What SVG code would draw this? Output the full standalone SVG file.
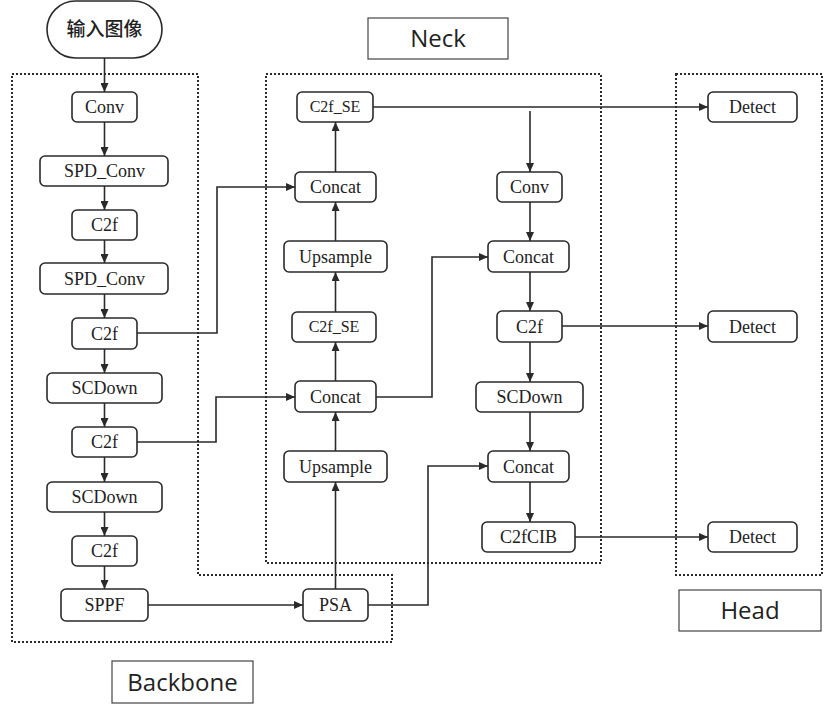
<svg xmlns="http://www.w3.org/2000/svg" width="825" height="705" viewBox="0 0 825 705">
<defs>
<marker id="ah" markerWidth="10" markerHeight="8" refX="9" refY="4" orient="auto" markerUnits="userSpaceOnUse">
<path d="M0,0 L9,4 L0,8 Z" fill="#2a2a2a"/>
</marker>
<style>
.n rect{fill:#fff;stroke:#2a2a2a;stroke-width:1.6}
.n text{font-family:"Liberation Serif","Times New Roman",serif;font-size:18px;fill:#222;text-anchor:middle}
.n text.s{font-size:16px}
.grp{fill:none;stroke:#2a2a2a;stroke-width:2;stroke-dasharray:2 2}
.lbl rect{fill:#fff;stroke:#444;stroke-width:1.2}
.lbl text{font-family:"Open Sans","Liberation Sans",sans-serif;font-size:24px;fill:#222;text-anchor:middle}
.c path{fill:none;stroke:#2a2a2a;stroke-width:1.6}
.c path.a{marker-end:url(#ah)}
</style>
</defs>
<rect width="825" height="705" fill="#fff"/>

<g id="groups">
<path class="grp" d="M12,74 H198 V575 H392 V642 H12 Z"/>
<rect class="grp" x="266" y="74" width="335" height="489"/>
<rect class="grp" x="676" y="74" width="146" height="501"/>
</g>

<g id="labels">
<g id="lbl-neck" class="lbl"><rect x="368" y="18" width="140" height="41"/><text x="438" y="47">Neck</text></g>
<g id="lbl-head" class="lbl"><rect x="679" y="590" width="142" height="41"/><text x="750" y="619">Head</text></g>
<g id="lbl-backbone" class="lbl"><rect x="112" y="661" width="141" height="42"/><text x="182.5" y="691">Backbone</text></g>
</g>

<g id="input" class="n">
<rect x="47" y="1" width="115" height="57" rx="28.5"/>
<text x="104.5" y="36" style="font-family:'Noto Sans CJK SC','Noto Sans',sans-serif;font-size:19px;font-weight:500">输入图像</text>
</g>

<g id="b-conv" class="n"><rect x="72" y="92" width="65" height="30" rx="5"/><text x="104.5" y="113">Conv</text></g>
<g id="b-spd1" class="n"><rect x="40" y="156" width="128" height="30" rx="5"/><text x="104.5" y="177">SPD_Conv</text></g>
<g id="b-c2f1" class="n"><rect x="72" y="210" width="65" height="30" rx="5"/><text x="104.5" y="231">C2f</text></g>
<g id="b-spd2" class="n"><rect x="40" y="263" width="128" height="31" rx="5"/><text x="104.5" y="285">SPD_Conv</text></g>
<g id="b-c2f2" class="n"><rect x="72" y="318" width="65" height="31" rx="5"/><text x="104.5" y="340">C2f</text></g>
<g id="b-scd1" class="n"><rect x="47" y="373" width="115" height="30" rx="5"/><text x="104.5" y="394">SCDown</text></g>
<g id="b-c2f3" class="n"><rect x="72" y="427" width="65" height="30" rx="5"/><text x="104.5" y="448">C2f</text></g>
<g id="b-scd2" class="n"><rect x="47" y="482" width="115" height="30" rx="5"/><text x="104.5" y="503">SCDown</text></g>
<g id="b-c2f4" class="n"><rect x="72" y="536" width="65" height="30" rx="5"/><text x="104.5" y="557">C2f</text></g>
<g id="b-sppf" class="n"><rect x="61" y="589" width="87" height="32" rx="5"/><text x="104.5" y="611">SPPF</text></g>
<g id="b-psa" class="n"><rect x="303" y="589" width="65" height="32" rx="5"/><text x="335.5" y="611">PSA</text></g>

<g id="n-c2fse1" class="n"><rect x="297" y="92" width="76" height="30" rx="5"/><text class="s" x="335" y="112">C2f_SE</text></g>
<g id="n-concat1" class="n"><rect x="295" y="172" width="81" height="30" rx="5"/><text x="335.5" y="193">Concat</text></g>
<g id="n-ups1" class="n"><rect x="284" y="241" width="103" height="31" rx="5"/><text x="335.5" y="263">Upsample</text></g>
<g id="n-c2fse2" class="n"><rect x="292" y="312" width="84" height="30" rx="5"/><text class="s" x="334" y="332">C2f_SE</text></g>
<g id="n-concat2" class="n"><rect x="295" y="381" width="81" height="31" rx="5"/><text x="335.5" y="403">Concat</text></g>
<g id="n-ups2" class="n"><rect x="284" y="451" width="103" height="31" rx="5"/><text x="335.5" y="473">Upsample</text></g>

<g id="n-conv" class="n"><rect x="497" y="172" width="65" height="30" rx="5"/><text x="529.5" y="193">Conv</text></g>
<g id="n-concat3" class="n"><rect x="488" y="241" width="81" height="31" rx="5"/><text x="528.5" y="263">Concat</text></g>
<g id="n-c2f" class="n"><rect x="497" y="311" width="65" height="31" rx="5"/><text x="529.5" y="333">C2f</text></g>
<g id="n-scd" class="n"><rect x="476" y="382" width="107" height="30" rx="5"/><text x="529.5" y="403">SCDown</text></g>
<g id="n-concat4" class="n"><rect x="488" y="451" width="81" height="31" rx="5"/><text x="528.5" y="473">Concat</text></g>
<g id="n-c2fcib" class="n"><rect x="482" y="522" width="93" height="30" rx="5"/><text x="528.5" y="543">C2fCIB</text></g>

<g id="h-det1" class="n"><rect x="708" y="92" width="89" height="30" rx="5"/><text x="752.5" y="113">Detect</text></g>
<g id="h-det2" class="n"><rect x="708" y="311" width="89" height="31" rx="5"/><text x="752.5" y="333">Detect</text></g>
<g id="h-det3" class="n"><rect x="708" y="522" width="89" height="30" rx="5"/><text x="752.5" y="543">Detect</text></g>

<g id="connectors" class="c">
<path class="a" d="M104.5,58 V92"/>
<path class="a" d="M104.5,122 V156"/>
<path class="a" d="M104.5,186 V210"/>
<path class="a" d="M104.5,240 V263"/>
<path class="a" d="M104.5,294 V318"/>
<path class="a" d="M104.5,349 V373"/>
<path class="a" d="M104.5,403 V427"/>
<path class="a" d="M104.5,457 V482"/>
<path class="a" d="M104.5,512 V536"/>
<path class="a" d="M104.5,566 V589"/>
<path class="a" d="M148,605 H303"/>
<path class="a" d="M137,333 H217 V187 H295"/>
<path class="a" d="M137,442 H216 V397 H295"/>
<path class="a" d="M335.5,589 V482"/>
<path class="a" d="M335.5,451 V412"/>
<path class="a" d="M335.5,381 V342"/>
<path class="a" d="M335.5,312 V272"/>
<path class="a" d="M335.5,241 V202"/>
<path class="a" d="M335.5,172 V122"/>
<path class="a" d="M376,397 H432 V257 H488"/>
<path class="a" d="M368,605 H428 V466 H488"/>
<path class="a" d="M373,107 H708"/>
<path class="a" d="M530,111 V172"/>
<path class="a" d="M530,202 V241"/>
<path class="a" d="M530,272 V311"/>
<path class="a" d="M530,342 V382"/>
<path class="a" d="M530,412 V451"/>
<path class="a" d="M530,482 V522"/>
<path class="a" d="M562,326 H708"/>
<path class="a" d="M575,537 H708"/>
</g>
</svg>
